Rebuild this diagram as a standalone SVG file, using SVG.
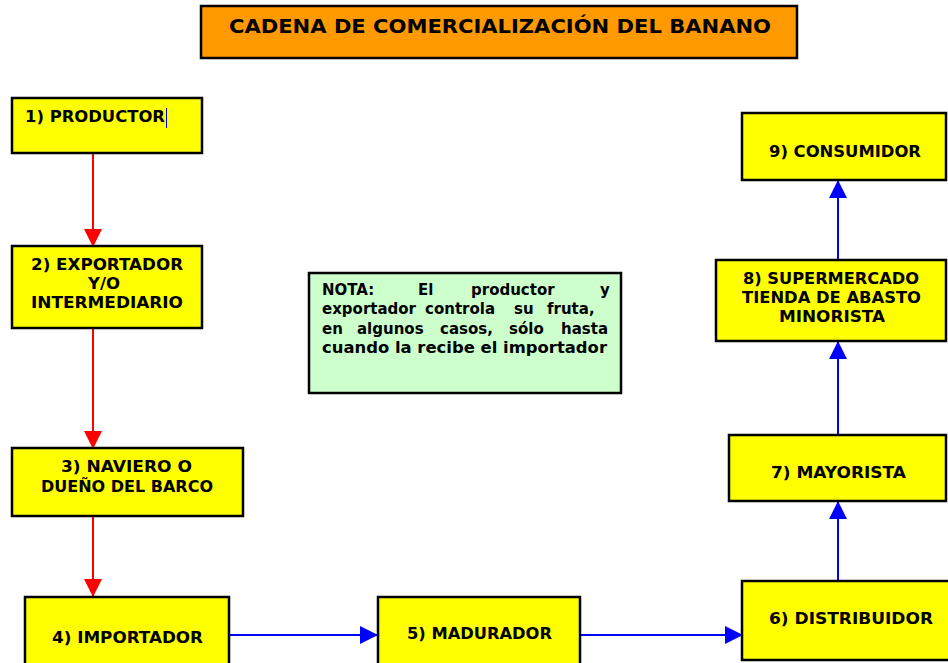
<svg xmlns="http://www.w3.org/2000/svg" width="948" height="663" viewBox="0 0 948 663">
<style>
.box{fill:#ffff00;stroke:#000;stroke-width:2.5}
.lbl{font-family:"DejaVu Sans","Liberation Sans",sans-serif;font-weight:bold;font-size:16.5px;fill:#000;text-anchor:middle}
.note{font-family:"DejaVu Sans","Liberation Sans",sans-serif;font-weight:bold;font-size:15px;fill:#000}
.red{stroke:#ff0000;stroke-width:2;fill:none}
.blue{stroke:#0000ff;stroke-width:2;fill:none}
</style>
<defs>
<marker id="ar" markerUnits="userSpaceOnUse" markerWidth="18" markerHeight="18" viewBox="0 0 16 16" refX="16" refY="8" orient="auto"><path d="M0,0 L16,8 L0,16 Z" fill="#ff0000"/></marker>
<marker id="ab" markerUnits="userSpaceOnUse" markerWidth="18" markerHeight="18" viewBox="0 0 16 16" refX="16" refY="8" orient="auto"><path d="M0,0 L16,8 L0,16 Z" fill="#0000ff"/></marker>
</defs>
<rect width="948" height="663" fill="#fff"/>
<g id="title">
<rect x="201" y="6" width="596" height="52" fill="#ff9900" stroke="#000" stroke-width="2.5"/>
<text x="500" y="33" class="lbl" style="font-size:20px" textLength="542" lengthAdjust="spacingAndGlyphs">CADENA DE COMERCIALIZACIÓN DEL BANANO</text>
</g>
<g id="connectors">
<line x1="93" y1="153" x2="93" y2="247" class="red" marker-end="url(#ar)"/>
<line x1="93" y1="328" x2="93" y2="449" class="red" marker-end="url(#ar)"/>
<line x1="93" y1="516" x2="93" y2="597" class="red" marker-end="url(#ar)"/>
<line x1="229" y1="635" x2="378" y2="635" class="blue" marker-end="url(#ab)"/>
<line x1="581" y1="635" x2="743" y2="635" class="blue" marker-end="url(#ab)"/>
<line x1="838" y1="581" x2="838" y2="501" class="blue" marker-end="url(#ab)"/>
<line x1="838" y1="435" x2="838" y2="341" class="blue" marker-end="url(#ab)"/>
<line x1="838" y1="260" x2="838" y2="180" class="blue" marker-end="url(#ab)"/>
</g>
<g id="n1">
<rect x="12" y="98" width="190" height="55" class="box"/>
<text x="25" y="122" class="lbl" style="text-anchor:start" textLength="140" lengthAdjust="spacingAndGlyphs">1) PRODUCTOR</text>
<line x1="166.5" y1="108" x2="166.5" y2="128" stroke="#0000ff" stroke-width="1"/>
</g>
<g id="n2">
<rect x="12" y="246" width="190" height="82" class="box"/>
<text x="107" y="270" class="lbl" textLength="152" lengthAdjust="spacingAndGlyphs">2) EXPORTADOR</text>
<text x="104" y="289" class="lbl">Y/O</text>
<text x="107" y="308" class="lbl" textLength="152" lengthAdjust="spacingAndGlyphs">INTERMEDIARIO</text>
</g>
<g id="n3">
<rect x="12" y="448" width="231" height="68" class="box"/>
<text x="126.5" y="472" class="lbl" textLength="131" lengthAdjust="spacingAndGlyphs">3) NAVIERO O</text>
<text x="127" y="492" class="lbl" textLength="172" lengthAdjust="spacingAndGlyphs">DUEÑO DEL BARCO</text>
</g>
<g id="n4">
<rect x="25" y="597" width="204" height="70" class="box"/>
<text x="127.5" y="643" class="lbl" textLength="151" lengthAdjust="spacingAndGlyphs">4) IMPORTADOR</text>
</g>
<g id="n5">
<rect x="378" y="597" width="202" height="70" class="box"/>
<text x="479.5" y="639" class="lbl" textLength="145" lengthAdjust="spacingAndGlyphs">5) MADURADOR</text>
</g>
<g id="n6">
<rect x="742" y="581" width="210" height="79" class="box"/>
<text x="851" y="624" class="lbl" textLength="164" lengthAdjust="spacingAndGlyphs">6) DISTRIBUIDOR</text>
</g>
<g id="n7">
<rect x="729" y="435" width="217" height="66" class="box"/>
<text x="838.5" y="478" class="lbl" textLength="135" lengthAdjust="spacingAndGlyphs">7) MAYORISTA</text>
</g>
<g id="n8">
<rect x="716" y="260" width="230" height="81" class="box"/>
<text x="831" y="284" class="lbl" textLength="176" lengthAdjust="spacingAndGlyphs">8) SUPERMERCADO</text>
<text x="831.5" y="303" class="lbl" textLength="179" lengthAdjust="spacingAndGlyphs">TIENDA DE ABASTO</text>
<text x="832" y="322" class="lbl" textLength="106" lengthAdjust="spacingAndGlyphs">MINORISTA</text>
</g>
<g id="n9">
<rect x="742" y="113" width="204" height="67" class="box"/>
<text x="845" y="157" class="lbl" textLength="152" lengthAdjust="spacingAndGlyphs">9) CONSUMIDOR</text>
</g>
<g id="nota">
<rect x="309" y="273" width="312" height="120" fill="#ccffcc" stroke="#000" stroke-width="2.5"/>
<text y="295" class="note"><tspan x="322">NOTA:</tspan><tspan x="418">El</tspan><tspan x="471">productor</tspan><tspan x="600">y</tspan></text>
<text y="314" class="note"><tspan x="322">exportador</tspan><tspan x="425">controla</tspan><tspan x="514">su</tspan><tspan x="547">fruta,</tspan></text>
<text y="334" class="note"><tspan x="322">en</tspan><tspan x="357">algunos</tspan><tspan x="440">casos,</tspan><tspan x="509">sólo</tspan><tspan x="561">hasta</tspan></text>
<text x="322" y="353" class="note" textLength="285" lengthAdjust="spacingAndGlyphs">cuando la recibe el importador</text>
</g>
</svg>
